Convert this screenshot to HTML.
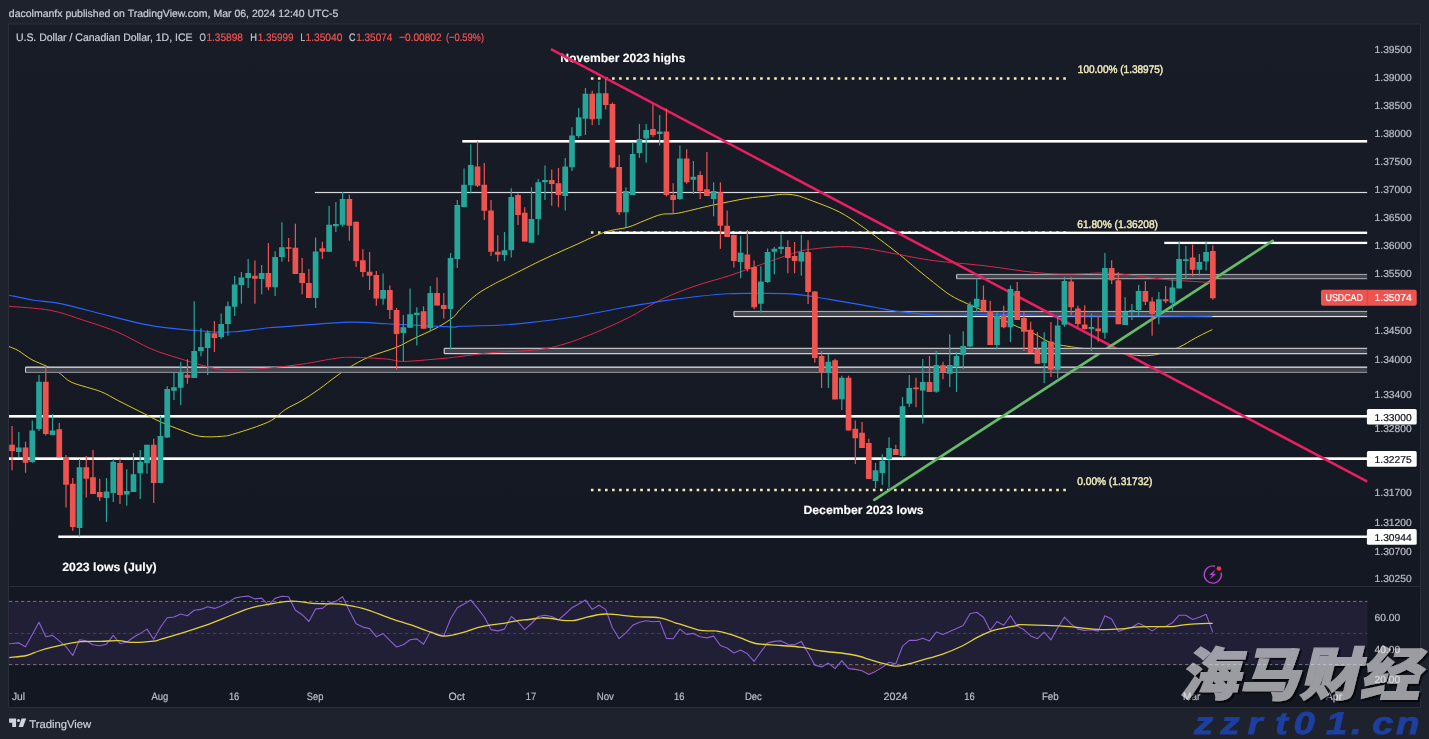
<!DOCTYPE html>
<html lang="en"><head><meta charset="utf-8"><title>USDCAD chart - TradingView</title>
<style>html,body{margin:0;padding:0;background:#1e222d;overflow:hidden}body{width:1429px;height:739px}svg{display:block}text{font-family:"Liberation Sans", "DejaVu Sans", sans-serif;white-space:pre;text-rendering:geometricPrecision}</style>
</head><body>
<svg width="1429" height="739" viewBox="0 0 1429 739" role="img" aria-label="USDCAD daily chart">
<rect width="1429" height="739" fill="#1e222d"/>
<defs><linearGradient id="bg" x1="0" y1="0" x2="0" y2="1"><stop offset="0" stop-color="#181c27"/><stop offset="1" stop-color="#131722"/></linearGradient></defs>
<rect x="8.5" y="24.0" width="1412.0" height="683.5" fill="url(#bg)" stroke="#2a2e39" stroke-width="1"/>
<line x1="9" x2="1420" y1="586.5" y2="586.5" stroke="#2a2e39" stroke-width="1"/>
<defs><clipPath id="plot"><rect x="9" y="24.5" width="1358.4" height="562"/></clipPath><clipPath id="rsi"><rect x="9" y="587" width="1358.4" height="100"/></clipPath></defs>
<g clip-path="url(#plot)">
<rect x="462.3" y="140.00" width="905.1" height="2.60" fill="#ffffff"/>
<rect x="314.8" y="191.90" width="1052.6" height="1.20" fill="#d9dade"/>
<rect x="1164.3" y="241.75" width="203.1" height="2.30" fill="#ffffff"/>
<rect x="9.0" y="415.00" width="1358.4" height="2.60" fill="#ffffff"/>
<rect x="9.0" y="457.30" width="1358.4" height="2.70" fill="#ffffff"/>
<rect x="58.3" y="535.50" width="1309.1" height="2.50" fill="#ffffff"/>
<line x1="590.9" x2="1066.5" y1="78.5" y2="78.5" stroke="#f5efb4" stroke-width="2.6" stroke-dasharray="2.6 4.45"/>
<line x1="590.9" x2="1066.5" y1="232.5" y2="232.5" stroke="#e9e2a0" stroke-width="2.6" stroke-dasharray="2.6 4.45"/>
<rect x="604.0" y="231.60" width="763.4" height="2.40" fill="#ffffff"/>
<line x1="590.9" x2="1066.5" y1="490.0" y2="490.0" stroke="#f5efb4" stroke-width="2.6" stroke-dasharray="2.6 4.45"/>
<path d="M9.1 346.6C10.6 347.3 14.5 348.4 18.3 350.6C22.1 352.8 27.1 357.1 31.9 359.7C36.7 362.3 42.5 364.2 47.0 366.4C51.5 368.6 54.7 370.0 58.9 372.7C63.1 375.4 65.2 379.4 72.2 382.5C79.2 385.6 93.2 388.6 100.8 391.6C108.4 394.6 110.3 396.6 117.6 400.3C124.9 404.0 137.1 410.2 144.4 413.8C151.7 417.4 155.0 419.5 161.2 422.2C167.4 424.9 174.9 427.8 181.4 430.2C187.9 432.6 193.2 435.3 199.9 436.3C206.6 437.3 215.8 436.8 221.7 436.3C227.6 435.9 227.3 436.0 235.1 433.6C242.9 431.2 260.3 425.8 268.7 421.8C277.1 417.8 279.9 413.0 285.5 409.4C291.1 405.8 296.7 403.7 302.3 400.3C307.9 396.9 313.5 393.2 319.1 389.2C324.7 385.2 330.9 380.1 335.9 376.5C340.9 372.9 343.7 370.7 349.3 367.4C354.9 364.1 361.6 360.0 369.5 356.7C377.4 353.4 389.1 350.3 396.4 347.3C403.7 344.3 406.5 342.1 413.2 338.9C419.9 335.6 430.0 331.4 436.7 327.8C443.4 324.2 449.6 320.1 453.5 317.0C457.4 313.9 456.1 313.3 460.0 309.5C463.9 305.7 471.2 298.6 476.8 294.4C482.4 290.2 488.0 287.4 493.6 284.3C499.2 281.2 502.0 280.1 510.4 275.9C518.8 271.7 532.8 264.4 544.0 259.1C555.2 253.8 567.5 248.5 577.6 244.0C587.7 239.5 596.0 235.0 604.4 232.2C612.8 229.4 621.3 229.1 628.0 227.2C634.7 225.2 639.2 222.6 644.8 220.5C650.4 218.4 655.9 215.6 661.5 214.4C667.1 213.2 669.9 214.6 678.3 213.1C686.7 211.6 700.7 207.7 711.9 205.3C723.1 202.9 736.0 200.2 745.5 198.6C755.0 197.0 762.8 196.6 769.0 195.9C775.2 195.2 778.0 194.4 782.5 194.3C787.0 194.2 790.9 194.2 795.9 195.3C800.9 196.4 805.4 198.2 812.7 201.0C820.0 203.8 831.2 207.7 839.6 212.1C848.0 216.5 853.6 220.5 863.1 227.2C872.6 233.9 887.8 245.4 896.7 252.4C905.7 259.4 910.6 264.0 916.8 269.0C922.9 274.0 928.0 278.1 933.6 282.5C939.2 286.9 944.8 291.7 950.4 295.2C956.0 298.7 961.6 301.0 967.2 303.6C972.8 306.2 978.4 308.5 984.0 311.0C989.6 313.5 995.2 316.1 1000.8 318.7C1006.4 321.3 1012.0 324.3 1017.6 326.8C1023.2 329.3 1028.8 331.1 1034.4 333.8C1040.0 336.5 1045.6 340.8 1051.2 342.9C1056.8 345.0 1062.4 345.4 1068.0 346.3C1073.6 347.2 1076.3 347.5 1084.7 348.6C1093.1 349.7 1108.8 351.8 1118.3 353.0C1127.8 354.2 1135.1 355.5 1141.8 355.7C1148.5 355.9 1152.4 355.4 1158.6 354.0C1164.8 352.6 1172.6 350.0 1178.8 347.3C1185.0 344.6 1190.0 340.9 1195.6 337.9C1201.2 334.9 1209.6 330.9 1212.4 329.5" fill="none" stroke="#dccb22" stroke-width="1.0" stroke-linejoin="round"/>
<rect x="956.1" y="273.90" width="411.3" height="5.30" rx="1" fill="#43454e"/><rect x="956.6" y="273.90" width="410.8" height="1.15" fill="#9d9ea5"/><rect x="956.6" y="278.05" width="410.8" height="1.15" fill="#9d9ea5"/><rect x="956.1" y="274.50" width="1.1" height="4.10" fill="#c9cace"/>
<rect x="733.5" y="310.90" width="633.9" height="6.20" rx="1" fill="#43454e"/><rect x="734.0" y="310.90" width="633.4" height="1.15" fill="#a9aab0"/><rect x="734.0" y="315.95" width="633.4" height="1.15" fill="#ececef"/><rect x="733.5" y="311.50" width="1.1" height="5.00" fill="#c9cace"/>
<rect x="25.0" y="366.60" width="1342.4" height="6.40" rx="1" fill="#43454e"/><rect x="25.5" y="366.60" width="1341.9" height="1.15" fill="#ececef"/><rect x="25.5" y="371.85" width="1341.9" height="1.15" fill="#888991"/><rect x="25.0" y="367.20" width="1.1" height="5.20" fill="#c9cace"/>
<text x="560.3" y="61.7" font-size="12.00" fill="#ffffff" stroke="#ffffff" stroke-width="0.12" font-weight="bold" textLength="125.1" lengthAdjust="spacingAndGlyphs">November 2023 highs</text>
<line x1="550.9" y1="49.2" x2="1367.4" y2="481.6" stroke="#e91e63" stroke-width="2.5"/>
<line x1="874.3" y1="499.8" x2="1272.6" y2="240.8" stroke="#66bb6a" stroke-width="2.7" stroke-linecap="round"/>
<rect x="443.7" y="347.80" width="923.7" height="6.40" rx="1" fill="#43454e"/><rect x="444.2" y="347.80" width="923.2" height="1.15" fill="#c4c5ca"/><rect x="444.2" y="353.05" width="923.2" height="1.15" fill="#d4d5d9"/><rect x="443.7" y="348.40" width="1.1" height="5.20" fill="#c9cace"/>
<path d="M9.1 306.3C16.0 307.0 37.9 308.0 50.4 310.3C62.9 312.6 72.8 316.8 84.0 320.4C95.2 324.0 106.4 327.4 117.6 332.1C128.8 336.9 141.1 344.6 151.2 348.9C161.3 353.2 169.6 355.3 178.0 358.0C186.4 360.7 194.8 363.2 201.5 365.1C208.2 367.0 212.7 368.3 218.3 369.1C223.9 369.9 226.7 370.3 235.1 370.1C243.5 369.9 257.5 369.1 268.7 368.1C279.9 367.1 291.1 365.7 302.3 364.1C313.5 362.5 327.5 359.4 335.9 358.3C344.3 357.2 344.3 357.2 352.7 357.3C361.1 357.4 377.9 358.3 386.3 359.0C394.7 359.7 394.7 361.4 403.1 361.4C411.5 361.4 427.2 359.8 436.7 359.0C446.2 358.2 450.5 357.6 460.0 356.5C469.5 355.4 480.7 353.6 493.6 352.5C506.5 351.4 525.5 351.2 537.3 349.8C549.0 348.4 554.6 346.9 564.1 344.1C573.6 341.3 583.8 337.4 594.4 333.0C605.0 328.6 616.8 323.5 628.0 317.9C639.2 312.3 650.3 304.7 661.5 299.4C672.7 294.1 683.9 289.9 695.1 286.0C706.3 282.1 717.5 279.5 728.7 275.9C739.9 272.2 751.1 268.0 762.3 264.1C773.5 260.2 787.5 254.9 795.9 252.4C804.3 249.9 805.4 249.9 812.7 249.0C820.0 248.1 831.2 246.9 839.6 246.7C848.0 246.5 853.6 246.8 863.1 248.0C872.6 249.2 885.0 252.0 896.7 254.1C908.5 256.2 919.1 258.7 933.6 260.6C948.1 262.5 967.2 263.7 984.0 265.7C1000.8 267.7 1020.4 271.0 1034.4 272.4C1048.4 273.8 1055.7 274.0 1068.0 274.1C1080.3 274.2 1097.1 272.7 1108.3 273.0C1119.5 273.3 1124.9 274.6 1135.0 275.7C1145.1 276.8 1155.8 278.7 1168.7 279.8C1181.6 280.9 1205.1 282.1 1212.4 282.5" fill="none" stroke="#d9274a" stroke-width="1.0" stroke-linejoin="round"/>
<path d="M9.1 295.2C13.2 296.0 25.0 298.8 33.6 300.2C42.2 301.6 49.3 301.4 60.5 303.6C71.7 305.9 88.5 310.6 100.8 313.7C113.1 316.8 124.3 319.9 134.4 322.1C144.5 324.3 151.1 325.7 161.2 327.1C171.3 328.5 185.3 329.7 194.8 330.5C204.3 331.3 211.6 331.9 218.3 332.1C225.0 332.3 226.7 332.5 235.1 331.8C243.5 331.1 257.5 328.9 268.7 327.8C279.9 326.7 288.9 326.3 302.3 325.4C315.7 324.4 335.3 322.4 349.3 322.1C363.3 321.8 374.5 323.1 386.3 323.7C398.1 324.2 408.7 324.8 419.9 325.4C431.1 326.0 446.8 327.0 453.5 327.1C460.2 327.2 452.8 326.6 460.0 326.3C467.2 326.0 485.8 325.9 497.0 325.3C508.2 324.7 513.8 324.4 527.2 322.9C540.6 321.4 560.8 318.9 577.6 316.2C594.4 313.5 614.0 309.3 628.0 306.8C642.0 304.3 650.3 302.8 661.5 301.1C672.7 299.4 683.9 297.9 695.1 296.7C706.3 295.5 717.5 294.2 728.7 293.7C739.9 293.1 751.1 293.3 762.3 293.4C773.5 293.5 784.7 293.4 795.9 294.4C807.1 295.4 818.3 297.6 829.5 299.4C840.7 301.2 851.9 303.1 863.1 305.1C874.3 307.1 883.9 309.5 896.7 311.2C909.5 312.9 922.6 314.7 940.0 315.2C957.4 315.7 979.5 314.3 1000.8 314.4C1022.1 314.5 1045.6 315.7 1068.0 316.0C1090.4 316.3 1110.9 315.9 1135.0 316.0C1159.1 316.1 1199.5 316.6 1212.4 316.7" fill="none" stroke="#2962ff" stroke-width="1.15" stroke-linejoin="round"/>
<path d="M18.80 432.0V457.0M32.29 420.5V463.1M39.03 375.1V431.0M52.53 414.0V435.1M79.51 459.0V536.6M106.49 477.9V522.0M113.24 459.0V502.1M126.73 469.2V505.7M133.48 452.9V491.9M140.22 449.9V499.0M146.97 444.8V473.7M160.46 415.8V483.0M167.21 386.3V437.7M173.95 373.1V399.9M180.70 361.9V405.0M194.19 301.2V377.9M200.94 328.2V356.2M207.68 330.2V374.9M221.18 313.4V338.7M227.92 301.4V335.7M234.67 276.0V316.0M241.41 271.9V303.8M248.16 259.1V288.0M261.65 265.0V294.3M275.14 251.2V295.9M281.89 222.2V261.8M315.62 237.4V308.1M329.11 206.1V251.8M335.86 202.1V231.9M342.60 191.9V226.4M383.08 273.4V304.8M403.32 315.0V361.1M410.06 288.6V327.8M416.81 307.3V345.4M430.30 285.9V330.6M450.54 253.0V349.5M457.29 200.1V268.1M464.03 168.6V207.2M470.78 144.2V193.4M504.51 231.9V261.0M511.25 188.3V257.5M531.49 187.3V242.7M538.24 179.1V235.0M544.98 165.5V200.1M565.22 158.0V210.6M571.97 127.3V171.0M578.71 108.0V137.9M585.46 88.1V135.0M598.95 81.6V124.9M625.94 187.3V227.5M632.68 142.6V195.0M639.43 123.9V157.8M646.17 123.9V162.8M659.67 115.1V145.6M679.90 145.6V200.1M693.40 161.1V194.0M713.63 182.2V216.3M740.62 236.0V278.2M760.86 266.3V312.4M767.60 248.4V282.9M774.35 247.0V274.2M781.09 234.2V253.9M801.33 234.8V275.8M828.32 354.1V388.0M841.81 375.8V409.9M875.54 463.1V488.1M882.28 454.2V485.0M889.03 437.3V487.5M902.52 397.1V457.0M909.27 375.0V406.9M922.76 359.1V423.5M936.25 350.9V392.7M949.74 334.3V387.1M956.49 352.1V392.1M963.24 331.2V369.2M969.98 301.8V347.1M976.73 278.4V311.9M996.97 312.3V349.5M1010.46 285.5V342.0M1044.19 332.2V383.0M1057.68 316.4V377.9M1064.43 277.0V326.8M1091.41 313.4V351.0M1104.90 253.1V338.8M1125.14 297.2V325.0M1131.89 303.9V320.1M1138.63 285.0V316.4M1158.87 292.1V324.2M1172.36 279.3V310.8M1179.11 241.7V288.6M1185.85 246.0V278.9M1199.35 254.1V275.8M1206.09 241.7V270.4" stroke="#26a69a" stroke-width="1.2" fill="none"/>
<path d="M12.05 426.1V470.2M25.54 441.8V472.8M45.78 367.0V435.6M59.27 423.1V457.0M66.02 455.0V507.4M72.76 477.9V530.7M86.26 456.0V497.6M93.00 449.9V494.0M99.75 478.7V501.1M119.99 458.4V504.1M153.72 438.7V503.1M187.45 359.3V383.7M214.43 321.1V351.9M254.91 260.6V303.8M268.40 243.1V290.2M288.64 238.0V261.8M295.38 223.8V274.0M302.13 257.9V294.3M308.87 268.9V297.9M322.37 241.7V258.9M349.35 194.8V240.7M356.10 221.8V267.1M362.84 249.2V277.0M369.59 252.0V290.0M376.33 270.9V305.8M389.83 285.5V319.0M396.57 307.9V369.8M423.56 306.2V328.8M437.05 277.4V305.8M443.79 293.0V318.6M477.52 141.2V186.9M484.27 163.1V219.9M491.02 200.1V255.9M497.76 235.2V261.6M518.00 193.4V225.0M524.75 207.2V241.7M551.73 169.6V205.7M558.48 168.0V207.2M592.21 90.8V124.9M605.70 79.6V109.6M612.44 102.5V168.3M619.19 155.0V214.9M652.92 104.6V137.1M666.41 108.6V196.5M673.16 183.2V213.7M686.65 149.3V183.8M700.14 171.2V199.0M706.89 151.9V196.0M720.38 182.2V248.8M727.13 210.6V237.0M733.87 234.6V267.5M747.36 230.1V271.5M754.11 260.6V309.3M787.84 240.3V273.2M794.59 241.9V273.2M808.08 240.3V303.9M814.82 291.1V362.7M821.57 351.0V388.0M835.06 358.7V399.3M848.55 375.8V430.6M855.30 420.5V464.1M862.05 422.1V448.1M868.79 438.7V478.9M895.78 444.8V455.0M916.01 377.8V407.3M929.51 356.1V392.0M943.00 361.7V379.3M983.47 285.5V311.9M990.22 300.8V345.0M1003.71 305.8V328.2M1017.20 281.9V320.1M1023.95 311.5V350.9M1030.70 321.7V352.9M1037.44 332.2V363.7M1050.93 322.1V376.9M1071.17 277.0V315.0M1077.92 305.8V326.8M1084.66 305.3V329.6M1098.16 316.0V341.8M1111.65 260.2V284.0M1118.39 272.2V324.2M1145.38 280.9V304.9M1152.12 297.2V335.7M1165.62 286.0V303.2M1192.60 244.4V276.2M1212.84 245.4V299.8" stroke="#ef5350" stroke-width="1.2" fill="none"/>
<path d="M15.95 447.5h5.7v4.5h-5.7zM29.44 430.6h5.7v31.5h-5.7zM36.18 381.8h5.7v47.1h-5.7zM49.68 430.6h5.7v4.5h-5.7zM76.66 467.2h5.7v60.9h-5.7zM103.64 491.5h5.7v6.5h-5.7zM110.39 461.7h5.7v31.3h-5.7zM123.88 490.9h5.7v3.7h-5.7zM130.63 474.3h5.7v17.7h-5.7zM137.37 461.7h5.7v11.6h-5.7zM144.12 444.8h5.7v18.3h-5.7zM157.61 436.1h5.7v46.9h-5.7zM164.36 388.9h5.7v48.7h-5.7zM171.10 387.3h5.7v3.5h-5.7zM177.85 372.5h5.7v15.2h-5.7zM191.34 350.9h5.7v27.0h-5.7zM198.09 347.1h5.7v3.9h-5.7zM204.83 332.6h5.7v15.4h-5.7zM218.33 324.1h5.7v12.8h-5.7zM225.07 306.2h5.7v17.9h-5.7zM231.82 284.5h5.7v22.3h-5.7zM238.56 277.4h5.7v7.5h-5.7zM245.31 272.9h5.7v5.1h-5.7zM258.80 272.9h5.7v6.1h-5.7zM272.29 256.9h5.7v30.3h-5.7zM279.04 247.2h5.7v9.7h-5.7zM312.77 251.6h5.7v46.3h-5.7zM326.26 224.8h5.7v27.0h-5.7zM333.01 224.0h5.7v2.2h-5.7zM339.75 199.0h5.7v25.8h-5.7zM380.23 290.0h5.7v8.7h-5.7zM400.47 327.2h5.7v5.7h-5.7zM407.21 314.2h5.7v13.6h-5.7zM413.96 312.7h5.7v2.2h-5.7zM427.45 293.0h5.7v35.1h-5.7zM447.69 258.1h5.7v50.8h-5.7zM454.44 205.1h5.7v53.8h-5.7zM461.18 184.8h5.7v22.3h-5.7zM467.93 164.9h5.7v20.3h-5.7zM501.66 250.2h5.7v4.7h-5.7zM508.40 197.0h5.7v53.2h-5.7zM528.64 218.9h5.7v23.8h-5.7zM535.39 182.2h5.7v36.8h-5.7zM542.13 179.9h5.7v2.4h-5.7zM562.37 166.5h5.7v29.4h-5.7zM569.12 135.4h5.7v31.9h-5.7zM575.86 117.2h5.7v18.7h-5.7zM582.61 93.8h5.7v25.0h-5.7zM596.10 93.2h5.7v25.6h-5.7zM623.09 190.9h5.7v21.3h-5.7zM629.83 154.0h5.7v41.0h-5.7zM636.58 139.1h5.7v14.0h-5.7zM643.32 129.9h5.7v8.5h-5.7zM656.82 131.4h5.7v2.6h-5.7zM677.05 158.4h5.7v40.6h-5.7zM690.55 176.7h5.7v3.0h-5.7zM710.78 190.9h5.7v8.1h-5.7zM737.77 252.8h5.7v9.1h-5.7zM758.01 281.5h5.7v22.3h-5.7zM764.75 251.9h5.7v30.1h-5.7zM771.50 248.8h5.7v3.0h-5.7zM778.24 246.8h5.7v2.2h-5.7zM798.48 251.9h5.7v9.7h-5.7zM825.47 361.8h5.7v10.6h-5.7zM838.96 377.8h5.7v21.5h-5.7zM872.69 470.2h5.7v10.8h-5.7zM879.43 460.7h5.7v12.2h-5.7zM886.18 448.1h5.7v11.0h-5.7zM899.67 406.2h5.7v49.7h-5.7zM906.42 388.0h5.7v15.8h-5.7zM919.91 381.9h5.7v8.7h-5.7zM933.40 365.1h5.7v26.6h-5.7zM946.89 365.1h5.7v8.7h-5.7zM953.64 356.0h5.7v10.2h-5.7zM960.39 346.0h5.7v8.9h-5.7zM967.13 304.8h5.7v41.6h-5.7zM973.88 298.7h5.7v8.5h-5.7zM994.12 316.0h5.7v29.0h-5.7zM1007.61 289.0h5.7v38.2h-5.7zM1041.34 341.4h5.7v21.7h-5.7zM1054.83 325.5h5.7v44.3h-5.7zM1061.58 280.9h5.7v43.9h-5.7zM1088.56 327.0h5.7v2.0h-5.7zM1102.05 268.1h5.7v64.6h-5.7zM1122.29 312.0h5.7v13.0h-5.7zM1129.04 309.9h5.7v1.4h-5.7zM1135.78 291.1h5.7v18.9h-5.7zM1156.02 299.2h5.7v15.2h-5.7zM1169.51 287.4h5.7v15.4h-5.7zM1176.26 259.0h5.7v29.6h-5.7zM1183.00 259.2h5.7v1.8h-5.7zM1196.50 262.0h5.7v7.7h-5.7zM1203.24 251.9h5.7v9.7h-5.7z" fill="#26a69a"/>
<path d="M9.20 444.8h5.7v6.1h-5.7zM22.69 447.5h5.7v15.2h-5.7zM42.93 381.8h5.7v52.2h-5.7zM56.42 429.2h5.7v27.8h-5.7zM63.17 457.0h5.7v27.8h-5.7zM69.91 483.8h5.7v43.2h-5.7zM83.41 467.2h5.7v11.6h-5.7zM90.15 477.3h5.7v16.6h-5.7zM96.90 491.9h5.7v5.3h-5.7zM117.14 463.1h5.7v31.9h-5.7zM150.87 444.8h5.7v38.2h-5.7zM184.60 374.7h5.7v3.0h-5.7zM211.58 333.2h5.7v4.7h-5.7zM252.06 275.8h5.7v3.0h-5.7zM265.55 272.9h5.7v14.4h-5.7zM285.79 247.2h5.7v1.6h-5.7zM292.53 247.8h5.7v26.2h-5.7zM299.28 272.9h5.7v10.2h-5.7zM306.02 283.1h5.7v14.8h-5.7zM319.52 248.2h5.7v3.5h-5.7zM346.50 199.0h5.7v26.8h-5.7zM353.25 221.8h5.7v39.2h-5.7zM359.99 260.2h5.7v11.8h-5.7zM366.74 271.7h5.7v4.1h-5.7zM373.48 275.0h5.7v23.4h-5.7zM386.98 290.0h5.7v19.9h-5.7zM393.72 309.9h5.7v24.0h-5.7zM420.71 311.3h5.7v17.5h-5.7zM434.20 293.0h5.7v12.6h-5.7zM440.94 305.0h5.7v3.9h-5.7zM474.67 166.5h5.7v19.3h-5.7zM481.42 184.8h5.7v26.0h-5.7zM488.17 210.6h5.7v41.2h-5.7zM494.91 251.8h5.7v3.0h-5.7zM515.15 195.0h5.7v19.9h-5.7zM521.90 212.8h5.7v28.8h-5.7zM548.88 179.9h5.7v4.1h-5.7zM555.63 183.2h5.7v11.8h-5.7zM589.36 93.8h5.7v25.4h-5.7zM602.85 93.2h5.7v11.8h-5.7zM609.59 104.0h5.7v63.4h-5.7zM616.34 167.0h5.7v45.3h-5.7zM650.07 128.9h5.7v6.1h-5.7zM663.56 131.4h5.7v63.6h-5.7zM670.31 195.0h5.7v5.1h-5.7zM683.80 158.4h5.7v23.8h-5.7zM697.29 175.1h5.7v15.8h-5.7zM704.04 189.3h5.7v6.7h-5.7zM717.53 192.3h5.7v33.5h-5.7zM724.28 225.8h5.7v11.2h-5.7zM731.02 235.0h5.7v26.0h-5.7zM744.51 254.5h5.7v14.6h-5.7zM751.26 267.1h5.7v40.2h-5.7zM784.99 247.0h5.7v11.0h-5.7zM791.74 255.9h5.7v5.1h-5.7zM805.23 251.9h5.7v40.2h-5.7zM811.97 291.5h5.7v66.6h-5.7zM818.72 356.1h5.7v16.6h-5.7zM832.21 360.2h5.7v39.2h-5.7zM845.70 377.8h5.7v52.8h-5.7zM852.45 428.8h5.7v9.5h-5.7zM859.20 432.8h5.7v15.2h-5.7zM865.94 443.0h5.7v35.9h-5.7zM892.93 448.9h5.7v6.1h-5.7zM913.16 387.6h5.7v1.6h-5.7zM926.66 381.9h5.7v10.2h-5.7zM940.15 365.3h5.7v6.9h-5.7zM980.62 299.7h5.7v11.2h-5.7zM987.37 310.9h5.7v34.1h-5.7zM1000.86 315.4h5.7v11.8h-5.7zM1014.35 291.0h5.7v29.0h-5.7zM1021.10 318.0h5.7v13.8h-5.7zM1027.85 329.8h5.7v23.1h-5.7zM1034.59 348.9h5.7v14.8h-5.7zM1048.08 341.4h5.7v28.4h-5.7zM1068.32 281.5h5.7v25.8h-5.7zM1075.07 308.5h5.7v15.6h-5.7zM1081.81 324.6h5.7v4.5h-5.7zM1095.31 328.6h5.7v2.6h-5.7zM1108.80 268.1h5.7v12.2h-5.7zM1115.54 280.3h5.7v43.9h-5.7zM1142.53 291.1h5.7v10.6h-5.7zM1149.27 301.6h5.7v12.4h-5.7zM1162.77 299.2h5.7v2.0h-5.7zM1189.75 257.6h5.7v12.2h-5.7zM1209.99 251.1h5.7v47.1h-5.7z" fill="#ef5350"/>
</g>
<text x="803.5" y="514.1" font-size="12.00" fill="#ffffff" stroke="#ffffff" stroke-width="0.12" font-weight="bold" textLength="120.1" lengthAdjust="spacingAndGlyphs">December 2023 lows</text>
<text x="62.2" y="571.1" font-size="12.00" fill="#ffffff" stroke="#ffffff" stroke-width="0.12" font-weight="bold" textLength="94.5" lengthAdjust="spacingAndGlyphs">2023 lows (July)</text>
<text x="1077.8" y="73.4" font-size="11.00" fill="#f1ebbd" stroke="#f1ebbd" stroke-width="0.45" font-weight="normal" textLength="85.4" lengthAdjust="spacingAndGlyphs">100.00% (1.38975)</text>
<text x="1077.3" y="227.6" font-size="11.00" fill="#f1ebbd" stroke="#f1ebbd" stroke-width="0.45" font-weight="normal" textLength="80.7" lengthAdjust="spacingAndGlyphs">61.80% (1.36208)</text>
<text x="1077.3" y="485.2" font-size="11.00" fill="#f1ebbd" stroke="#f1ebbd" stroke-width="0.45" font-weight="normal" textLength="75.0" lengthAdjust="spacingAndGlyphs">0.00% (1.31732)</text>
<g transform="translate(1212.8 574.5)" fill="none" stroke="#b141c9" stroke-width="1.4"><path d="M2.2 -8.3A8.6 8.6 0 1 0 8.4 -1.9"/><path d="M2.7 -5.0L-3.7 0.55L-0.4 0.45L-3.1 4.9L3.6 -0.65L0.3 -0.5Z" fill="#b141c9" stroke="none"/><circle cx="6.1" cy="-6.0" r="2.3" fill="#f23645" stroke="none"/></g>
<rect x="9" y="601.4" width="1358.4" height="63.2" fill="#7e57c2" fill-opacity="0.13"/>
<line x1="9" x2="1367.4" y1="601.4" y2="601.4" stroke="#a9acb5" stroke-opacity="0.62" stroke-width="1" stroke-dasharray="3.4 2.6"/>
<line x1="9" x2="1367.4" y1="633.4" y2="633.4" stroke="#a9acb5" stroke-opacity="0.25" stroke-width="1" stroke-dasharray="3.4 2.6"/>
<line x1="9" x2="1367.4" y1="664.6" y2="664.6" stroke="#a9acb5" stroke-opacity="0.62" stroke-width="1" stroke-dasharray="3.4 2.6"/>
<g clip-path="url(#rsi)">
<clipPath id="os"><rect x="9" y="664.6" width="1358" height="30"/></clipPath>
<path d="M9.0 643.7 L12.1 643.5 L18.8 642.9 L25.5 646.7 L32.3 634.6 L39.0 622.3 L45.8 636.7 L52.5 635.4 L59.3 640.9 L66.0 646.7 L72.8 655.5 L79.5 639.7 L86.3 640.9 L93.0 644.7 L99.7 645.7 L106.5 644.2 L113.2 635.4 L120.0 643.5 L126.7 642.2 L133.5 637.2 L140.2 633.4 L147.0 629.1 L153.7 639.2 L160.5 627.3 L167.2 617.8 L174.0 617.0 L180.7 614.0 L187.4 615.7 L194.2 610.2 L200.9 609.4 L207.7 606.7 L214.4 608.4 L221.2 605.9 L227.9 602.6 L234.7 598.1 L241.4 596.8 L248.2 596.1 L254.9 598.9 L261.7 598.1 L268.4 605.2 L275.1 598.4 L281.9 596.3 L288.6 596.8 L295.4 610.2 L302.1 614.7 L308.9 621.5 L315.6 608.9 L322.4 608.4 L329.1 603.1 L335.9 601.4 L342.6 596.8 L349.4 610.7 L356.1 623.8 L362.8 627.1 L369.6 628.6 L376.3 636.7 L383.1 633.6 L389.8 640.4 L396.6 647.0 L403.3 644.7 L410.1 639.7 L416.8 638.9 L423.6 644.2 L430.3 631.6 L437.0 634.1 L443.8 635.9 L450.5 619.0 L457.3 607.7 L464.0 603.9 L470.8 600.1 L477.5 608.2 L484.3 617.0 L491.0 629.6 L497.8 630.9 L504.5 629.1 L511.3 616.5 L518.0 622.0 L524.7 629.6 L531.5 623.5 L538.2 616.5 L545.0 615.2 L551.7 616.5 L558.5 619.8 L565.2 614.0 L572.0 607.7 L578.7 603.9 L585.5 600.1 L592.2 609.4 L599.0 605.2 L605.7 609.4 L612.4 627.8 L619.2 638.7 L625.9 632.9 L632.7 625.3 L639.4 622.3 L646.2 620.8 L652.9 621.8 L659.7 621.3 L666.4 638.4 L673.2 638.7 L679.9 629.1 L686.6 634.4 L693.4 633.4 L700.1 636.7 L706.9 637.9 L713.6 636.1 L720.4 645.5 L727.1 648.0 L733.9 653.0 L740.6 650.0 L747.4 653.8 L754.1 661.3 L760.9 651.8 L767.6 642.9 L774.3 641.4 L781.1 640.9 L787.8 644.2 L794.6 644.7 L801.3 641.4 L808.1 653.0 L814.8 665.1 L821.6 666.9 L828.3 663.1 L835.1 668.6 L841.8 660.6 L848.6 668.6 L855.3 669.4 L862.0 670.7 L868.8 674.4 L875.5 671.4 L882.3 667.4 L889.0 662.3 L895.8 663.9 L902.5 646.2 L909.3 640.4 L916.0 640.4 L922.8 638.2 L929.5 640.9 L936.3 632.1 L943.0 634.6 L949.7 631.6 L956.5 628.6 L963.2 625.6 L970.0 613.7 L976.7 612.2 L983.5 617.2 L990.2 630.4 L997.0 621.5 L1003.7 625.3 L1010.5 615.7 L1017.2 626.1 L1024.0 629.8 L1030.7 635.9 L1037.4 638.7 L1044.2 632.1 L1050.9 639.9 L1057.7 627.8 L1064.4 617.2 L1071.2 624.1 L1077.9 629.1 L1084.7 630.4 L1091.4 629.8 L1098.2 631.1 L1104.9 615.7 L1111.6 619.0 L1118.4 631.6 L1125.1 629.1 L1131.9 627.3 L1138.6 623.3 L1145.4 626.6 L1152.1 630.9 L1158.9 626.6 L1165.6 626.6 L1172.4 622.8 L1179.1 615.2 L1185.9 615.2 L1192.6 619.5 L1199.3 617.2 L1206.1 614.2 L1212.8 632.4 L1212.8 664.6 L9.0 664.6 Z" fill="#ef5350" fill-opacity="0.13" clip-path="url(#os)"/>
<path d="M9.0 643.7 L12.1 643.5 L18.8 642.9 L25.5 646.7 L32.3 634.6 L39.0 622.3 L45.8 636.7 L52.5 635.4 L59.3 640.9 L66.0 646.7 L72.8 655.5 L79.5 639.7 L86.3 640.9 L93.0 644.7 L99.7 645.7 L106.5 644.2 L113.2 635.4 L120.0 643.5 L126.7 642.2 L133.5 637.2 L140.2 633.4 L147.0 629.1 L153.7 639.2 L160.5 627.3 L167.2 617.8 L174.0 617.0 L180.7 614.0 L187.4 615.7 L194.2 610.2 L200.9 609.4 L207.7 606.7 L214.4 608.4 L221.2 605.9 L227.9 602.6 L234.7 598.1 L241.4 596.8 L248.2 596.1 L254.9 598.9 L261.7 598.1 L268.4 605.2 L275.1 598.4 L281.9 596.3 L288.6 596.8 L295.4 610.2 L302.1 614.7 L308.9 621.5 L315.6 608.9 L322.4 608.4 L329.1 603.1 L335.9 601.4 L342.6 596.8 L349.4 610.7 L356.1 623.8 L362.8 627.1 L369.6 628.6 L376.3 636.7 L383.1 633.6 L389.8 640.4 L396.6 647.0 L403.3 644.7 L410.1 639.7 L416.8 638.9 L423.6 644.2 L430.3 631.6 L437.0 634.1 L443.8 635.9 L450.5 619.0 L457.3 607.7 L464.0 603.9 L470.8 600.1 L477.5 608.2 L484.3 617.0 L491.0 629.6 L497.8 630.9 L504.5 629.1 L511.3 616.5 L518.0 622.0 L524.7 629.6 L531.5 623.5 L538.2 616.5 L545.0 615.2 L551.7 616.5 L558.5 619.8 L565.2 614.0 L572.0 607.7 L578.7 603.9 L585.5 600.1 L592.2 609.4 L599.0 605.2 L605.7 609.4 L612.4 627.8 L619.2 638.7 L625.9 632.9 L632.7 625.3 L639.4 622.3 L646.2 620.8 L652.9 621.8 L659.7 621.3 L666.4 638.4 L673.2 638.7 L679.9 629.1 L686.6 634.4 L693.4 633.4 L700.1 636.7 L706.9 637.9 L713.6 636.1 L720.4 645.5 L727.1 648.0 L733.9 653.0 L740.6 650.0 L747.4 653.8 L754.1 661.3 L760.9 651.8 L767.6 642.9 L774.3 641.4 L781.1 640.9 L787.8 644.2 L794.6 644.7 L801.3 641.4 L808.1 653.0 L814.8 665.1 L821.6 666.9 L828.3 663.1 L835.1 668.6 L841.8 660.6 L848.6 668.6 L855.3 669.4 L862.0 670.7 L868.8 674.4 L875.5 671.4 L882.3 667.4 L889.0 662.3 L895.8 663.9 L902.5 646.2 L909.3 640.4 L916.0 640.4 L922.8 638.2 L929.5 640.9 L936.3 632.1 L943.0 634.6 L949.7 631.6 L956.5 628.6 L963.2 625.6 L970.0 613.7 L976.7 612.2 L983.5 617.2 L990.2 630.4 L997.0 621.5 L1003.7 625.3 L1010.5 615.7 L1017.2 626.1 L1024.0 629.8 L1030.7 635.9 L1037.4 638.7 L1044.2 632.1 L1050.9 639.9 L1057.7 627.8 L1064.4 617.2 L1071.2 624.1 L1077.9 629.1 L1084.7 630.4 L1091.4 629.8 L1098.2 631.1 L1104.9 615.7 L1111.6 619.0 L1118.4 631.6 L1125.1 629.1 L1131.9 627.3 L1138.6 623.3 L1145.4 626.6 L1152.1 630.9 L1158.9 626.6 L1165.6 626.6 L1172.4 622.8 L1179.1 615.2 L1185.9 615.2 L1192.6 619.5 L1199.3 617.2 L1206.1 614.2 L1212.8 632.4" fill="none" stroke="#8a5fd0" stroke-width="1.1" stroke-linejoin="round"/>
<path d="M9.3 657.6C12.2 657.2 21.3 656.7 26.5 655.5C31.6 654.4 33.8 652.4 40.3 650.5C46.8 648.6 58.8 645.7 65.5 644.2C72.2 642.7 74.7 642.2 80.6 641.7C86.5 641.2 94.5 641.6 100.8 641.4C107.1 641.3 113.0 640.5 118.4 640.7C123.9 640.8 127.7 642.4 133.5 642.4C139.4 642.5 149.1 641.7 153.7 641.2C158.3 640.6 155.8 640.8 161.2 639.2C166.7 637.6 178.5 634.1 186.4 631.6C194.4 629.1 201.1 627.0 209.1 624.1C217.1 621.1 227.2 616.7 234.3 614.0C241.5 611.2 246.5 609.2 252.0 607.7C257.4 606.1 261.6 605.7 267.1 604.7C272.5 603.6 279.7 602.2 284.7 601.6C289.7 601.1 293.1 601.1 297.3 601.4C301.5 601.6 304.9 602.7 309.9 603.1C314.9 603.6 322.5 603.7 327.5 603.9C332.6 604.1 334.1 603.4 340.0 604.1C345.9 604.9 354.3 606.1 362.7 608.4C371.1 610.8 381.6 615.2 390.4 618.3C399.2 621.3 408.0 623.9 415.6 626.6C423.1 629.2 431.1 632.5 435.7 634.1C440.4 635.7 440.4 636.0 443.3 636.1C446.2 636.3 449.6 635.6 453.4 634.9C457.2 634.1 461.8 632.9 466.0 631.6C470.2 630.4 474.4 628.5 478.6 627.3C482.8 626.2 487.0 625.5 491.2 624.8C495.4 624.1 499.6 624.0 503.8 623.3C508.0 622.6 512.2 621.4 516.4 620.8C520.6 620.1 524.8 620.0 529.0 619.5C533.2 619.0 537.8 617.9 541.6 617.8C545.3 617.6 548.3 618.1 551.6 618.5C555.0 618.9 557.9 619.9 561.7 620.3C565.5 620.6 570.1 621.0 574.3 620.5C578.5 620.0 582.7 618.3 586.9 617.2C591.1 616.2 596.2 615.0 599.5 614.5C602.9 613.9 604.1 613.9 607.1 614.0C610.0 614.0 612.5 614.3 617.1 614.7C621.8 615.2 627.6 616.2 634.8 616.7C641.9 617.2 653.3 616.7 660.0 617.8C666.7 618.8 671.8 621.7 675.1 622.8C678.4 623.8 675.8 622.8 680.0 624.1C684.2 625.3 694.3 629.2 700.2 630.4C706.0 631.5 711.1 630.4 715.3 630.9C719.5 631.3 721.2 631.7 725.4 632.9C729.6 634.0 735.4 636.1 740.5 637.9C745.5 639.7 748.9 642.2 755.6 643.5C762.3 644.7 773.2 644.8 780.8 645.5C788.3 646.1 794.2 646.3 800.9 647.2C807.7 648.2 814.4 650.0 821.1 651.0C827.8 652.0 835.4 652.3 841.2 653.0C847.1 653.8 851.3 654.4 856.4 655.5C861.4 656.7 866.4 658.6 871.5 660.1C876.5 661.6 882.6 663.4 886.6 664.4C890.6 665.4 892.5 666.0 895.4 666.1C898.4 666.3 899.8 666.1 904.2 665.1C908.6 664.1 915.6 661.9 921.9 660.1C928.2 658.3 935.3 656.6 942.0 654.3C948.7 651.9 956.3 648.8 962.2 646.0C968.1 643.2 972.7 639.8 977.3 637.4C981.9 635.0 985.3 633.2 989.9 631.6C994.5 630.0 1000.4 628.9 1005.0 627.8C1009.6 626.8 1015.1 625.9 1017.6 625.3C1020.1 624.8 1015.4 624.6 1020.0 624.6C1024.6 624.6 1036.8 625.0 1045.2 625.3C1053.6 625.6 1063.7 626.1 1070.4 626.6C1077.1 627.1 1080.0 627.8 1085.5 628.3C1091.0 628.8 1097.3 629.5 1103.1 629.6C1109.0 629.7 1114.9 629.3 1120.8 628.8C1126.7 628.4 1132.5 627.2 1138.4 626.8C1144.3 626.4 1150.6 626.6 1156.1 626.6C1161.5 626.5 1166.6 626.9 1171.2 626.6C1175.8 626.3 1179.6 625.3 1183.8 624.8C1188.0 624.3 1191.5 624.1 1196.4 623.8C1201.2 623.5 1210.0 623.4 1212.7 623.3" fill="none" stroke="#e0d13a" stroke-width="1.3" stroke-linejoin="round"/>
</g>
<text x="1374.6" y="53.4" font-size="10.20" fill="#b9bcc5" stroke="#b9bcc5" stroke-width="0.22" font-weight="normal" textLength="37.1" lengthAdjust="spacingAndGlyphs">1.39500</text>
<text x="1374.6" y="81.0" font-size="10.20" fill="#b9bcc5" stroke="#b9bcc5" stroke-width="0.22" font-weight="normal" textLength="37.1" lengthAdjust="spacingAndGlyphs">1.39000</text>
<text x="1374.6" y="108.8" font-size="10.20" fill="#b9bcc5" stroke="#b9bcc5" stroke-width="0.22" font-weight="normal" textLength="37.1" lengthAdjust="spacingAndGlyphs">1.38500</text>
<text x="1374.6" y="136.6" font-size="10.20" fill="#b9bcc5" stroke="#b9bcc5" stroke-width="0.22" font-weight="normal" textLength="37.1" lengthAdjust="spacingAndGlyphs">1.38000</text>
<text x="1374.6" y="164.6" font-size="10.20" fill="#b9bcc5" stroke="#b9bcc5" stroke-width="0.22" font-weight="normal" textLength="37.1" lengthAdjust="spacingAndGlyphs">1.37500</text>
<text x="1374.6" y="192.6" font-size="10.20" fill="#b9bcc5" stroke="#b9bcc5" stroke-width="0.22" font-weight="normal" textLength="37.1" lengthAdjust="spacingAndGlyphs">1.37000</text>
<text x="1374.6" y="220.8" font-size="10.20" fill="#b9bcc5" stroke="#b9bcc5" stroke-width="0.22" font-weight="normal" textLength="37.1" lengthAdjust="spacingAndGlyphs">1.36500</text>
<text x="1374.6" y="249.0" font-size="10.20" fill="#b9bcc5" stroke="#b9bcc5" stroke-width="0.22" font-weight="normal" textLength="37.1" lengthAdjust="spacingAndGlyphs">1.36000</text>
<text x="1374.6" y="277.4" font-size="10.20" fill="#b9bcc5" stroke="#b9bcc5" stroke-width="0.22" font-weight="normal" textLength="37.1" lengthAdjust="spacingAndGlyphs">1.35500</text>
<text x="1374.6" y="334.4" font-size="10.20" fill="#b9bcc5" stroke="#b9bcc5" stroke-width="0.22" font-weight="normal" textLength="37.1" lengthAdjust="spacingAndGlyphs">1.34500</text>
<text x="1374.6" y="363.1" font-size="10.20" fill="#b9bcc5" stroke="#b9bcc5" stroke-width="0.22" font-weight="normal" textLength="37.1" lengthAdjust="spacingAndGlyphs">1.34000</text>
<text x="1374.6" y="397.6" font-size="10.20" fill="#b9bcc5" stroke="#b9bcc5" stroke-width="0.22" font-weight="normal" textLength="37.1" lengthAdjust="spacingAndGlyphs">1.33400</text>
<text x="1374.6" y="432.3" font-size="10.20" fill="#b9bcc5" stroke="#b9bcc5" stroke-width="0.22" font-weight="normal" textLength="37.1" lengthAdjust="spacingAndGlyphs">1.32800</text>
<text x="1374.6" y="496.3" font-size="10.20" fill="#b9bcc5" stroke="#b9bcc5" stroke-width="0.22" font-weight="normal" textLength="37.1" lengthAdjust="spacingAndGlyphs">1.31700</text>
<text x="1374.6" y="525.6" font-size="10.20" fill="#b9bcc5" stroke="#b9bcc5" stroke-width="0.22" font-weight="normal" textLength="37.1" lengthAdjust="spacingAndGlyphs">1.31200</text>
<text x="1374.6" y="555.0" font-size="10.20" fill="#b9bcc5" stroke="#b9bcc5" stroke-width="0.22" font-weight="normal" textLength="37.1" lengthAdjust="spacingAndGlyphs">1.30700</text>
<text x="1374.6" y="581.6" font-size="10.20" fill="#b9bcc5" stroke="#b9bcc5" stroke-width="0.22" font-weight="normal" textLength="37.1" lengthAdjust="spacingAndGlyphs">1.30250</text>
<text x="1374.6" y="621.3" font-size="10.20" fill="#b9bcc5" stroke="#b9bcc5" stroke-width="0.22" font-weight="normal" textLength="25.7" lengthAdjust="spacingAndGlyphs">60.00</text>
<text x="1374.6" y="652.6" font-size="10.20" fill="#b9bcc5" stroke="#b9bcc5" stroke-width="0.22" font-weight="normal" textLength="25.7" lengthAdjust="spacingAndGlyphs">40.00</text>
<text x="1374.6" y="683.1" font-size="10.20" fill="#b9bcc5" stroke="#b9bcc5" stroke-width="0.22" font-weight="normal" textLength="25.7" lengthAdjust="spacingAndGlyphs">20.00</text>
<rect x="1366.9" y="408.9" width="49.8" height="15.7" rx="1.6" fill="#ffffff"/><text x="1374.6" y="420.7" font-size="10.00" fill="#131722" stroke="#131722" stroke-width="0.22" font-weight="normal" textLength="37.1" lengthAdjust="spacingAndGlyphs">1.33000</text>
<rect x="1366.9" y="451.1" width="49.8" height="15.7" rx="1.6" fill="#ffffff"/><text x="1374.6" y="462.9" font-size="10.00" fill="#131722" stroke="#131722" stroke-width="0.22" font-weight="normal" textLength="37.1" lengthAdjust="spacingAndGlyphs">1.32275</text>
<rect x="1366.9" y="529.1" width="49.8" height="15.7" rx="1.6" fill="#ffffff"/><text x="1374.6" y="540.9" font-size="10.00" fill="#131722" stroke="#131722" stroke-width="0.22" font-weight="normal" textLength="37.1" lengthAdjust="spacingAndGlyphs">1.30944</text>
<rect x="1321" y="289.8" width="95.7" height="15.9" rx="2" fill="#ef5350"/>
<rect x="1366.9" y="289.8" width="0.8" height="15.9" fill="#cf4844"/>
<text x="1325.5" y="301.4" font-size="10.00" fill="#ffffff" stroke="#ffffff" stroke-width="0.22" font-weight="normal" textLength="37.4" lengthAdjust="spacingAndGlyphs">USDCAD</text>
<text x="1374.6" y="301.4" font-size="10.00" fill="#ffffff" stroke="#ffffff" stroke-width="0.22" font-weight="normal" textLength="37.1" lengthAdjust="spacingAndGlyphs">1.35074</text>
<text x="11.9" y="700.0" font-size="10.60" fill="#b9bcc5" stroke="#b9bcc5" stroke-width="0.22" font-weight="normal" textLength="13.1" lengthAdjust="spacingAndGlyphs">Jul</text>
<text x="151.5" y="700.0" font-size="10.60" fill="#b9bcc5" stroke="#b9bcc5" stroke-width="0.22" font-weight="normal" textLength="16.8" lengthAdjust="spacingAndGlyphs">Aug</text>
<text x="228.9" y="700.0" font-size="10.60" fill="#b9bcc5" stroke="#b9bcc5" stroke-width="0.22" font-weight="normal" textLength="10.4" lengthAdjust="spacingAndGlyphs">16</text>
<text x="306.8" y="700.0" font-size="10.60" fill="#b9bcc5" stroke="#b9bcc5" stroke-width="0.22" font-weight="normal" textLength="16.6" lengthAdjust="spacingAndGlyphs">Sep</text>
<text x="448.6" y="700.0" font-size="10.60" fill="#b9bcc5" stroke="#b9bcc5" stroke-width="0.22" font-weight="normal" textLength="16.4" lengthAdjust="spacingAndGlyphs">Oct</text>
<text x="525.8" y="700.0" font-size="10.60" fill="#b9bcc5" stroke="#b9bcc5" stroke-width="0.22" font-weight="normal" textLength="10.4" lengthAdjust="spacingAndGlyphs">17</text>
<text x="596.7" y="700.0" font-size="10.60" fill="#b9bcc5" stroke="#b9bcc5" stroke-width="0.22" font-weight="normal" textLength="17.2" lengthAdjust="spacingAndGlyphs">Nov</text>
<text x="674.0" y="700.0" font-size="10.60" fill="#b9bcc5" stroke="#b9bcc5" stroke-width="0.22" font-weight="normal" textLength="10.4" lengthAdjust="spacingAndGlyphs">16</text>
<text x="744.9" y="700.0" font-size="10.60" fill="#b9bcc5" stroke="#b9bcc5" stroke-width="0.22" font-weight="normal" textLength="17.0" lengthAdjust="spacingAndGlyphs">Dec</text>
<text x="883.4" y="700.0" font-size="10.60" fill="#b9bcc5" stroke="#b9bcc5" stroke-width="0.22" font-weight="normal" textLength="24.0" lengthAdjust="spacingAndGlyphs">2024</text>
<text x="964.2" y="700.0" font-size="10.60" fill="#b9bcc5" stroke="#b9bcc5" stroke-width="0.22" font-weight="normal" textLength="10.4" lengthAdjust="spacingAndGlyphs">16</text>
<text x="1041.9" y="700.0" font-size="10.60" fill="#b9bcc5" stroke="#b9bcc5" stroke-width="0.22" font-weight="normal" textLength="16.8" lengthAdjust="spacingAndGlyphs">Feb</text>
<text x="1183.1" y="700.0" font-size="10.60" fill="#b9bcc5" stroke="#b9bcc5" stroke-width="0.22" font-weight="normal" textLength="17.2" lengthAdjust="spacingAndGlyphs">Mar</text>
<text x="1325.8" y="700.0" font-size="10.60" fill="#b9bcc5" stroke="#b9bcc5" stroke-width="0.22" font-weight="normal" textLength="16.4" lengthAdjust="spacingAndGlyphs">Apr</text>
<text x="8.8" y="16.6" font-size="10.50" fill="#c9ccd4" stroke="#c9ccd4" stroke-width="0.22" font-weight="normal" textLength="329.5" lengthAdjust="spacingAndGlyphs">dacolmanfx published on TradingView.com, Mar 06, 2024 12:40 UTC-5</text>
<text x="15.9" y="40.9" font-size="10.90" fill="#c9ccd4" stroke="#c9ccd4" stroke-width="0.22" font-weight="normal" textLength="176.6" lengthAdjust="spacingAndGlyphs">U.S. Dollar / Canadian Dollar, 1D, ICE</text>
<text x="199.6" y="40.9" font-size="10.90" fill="#c9ccd4" stroke="#c9ccd4" stroke-width="0.22" font-weight="normal" textLength="6.3" lengthAdjust="spacingAndGlyphs">O</text>
<text x="206.4" y="40.9" font-size="10.90" fill="#ef5350" stroke="#ef5350" stroke-width="0.22" font-weight="normal" textLength="36.5" lengthAdjust="spacingAndGlyphs">1.35898</text>
<text x="250.3" y="40.9" font-size="10.90" fill="#c9ccd4" stroke="#c9ccd4" stroke-width="0.22" font-weight="normal" textLength="6.7" lengthAdjust="spacingAndGlyphs">H</text>
<text x="257.8" y="40.9" font-size="10.90" fill="#ef5350" stroke="#ef5350" stroke-width="0.22" font-weight="normal" textLength="35.8" lengthAdjust="spacingAndGlyphs">1.35999</text>
<text x="300.4" y="40.9" font-size="10.90" fill="#c9ccd4" stroke="#c9ccd4" stroke-width="0.22" font-weight="normal" textLength="4.6" lengthAdjust="spacingAndGlyphs">L</text>
<text x="305.5" y="40.9" font-size="10.90" fill="#ef5350" stroke="#ef5350" stroke-width="0.22" font-weight="normal" textLength="36.9" lengthAdjust="spacingAndGlyphs">1.35040</text>
<text x="349.1" y="40.9" font-size="10.90" fill="#c9ccd4" stroke="#c9ccd4" stroke-width="0.22" font-weight="normal" textLength="6.4" lengthAdjust="spacingAndGlyphs">C</text>
<text x="356.2" y="40.9" font-size="10.90" fill="#ef5350" stroke="#ef5350" stroke-width="0.22" font-weight="normal" textLength="36.2" lengthAdjust="spacingAndGlyphs">1.35074</text>
<text x="399.2" y="40.9" font-size="10.90" fill="#ef5350" stroke="#ef5350" stroke-width="0.22" font-weight="normal" textLength="42.3" lengthAdjust="spacingAndGlyphs">−0.00802</text>
<text x="445.9" y="40.9" font-size="10.90" fill="#ef5350" stroke="#ef5350" stroke-width="0.22" font-weight="normal" textLength="38.1" lengthAdjust="spacingAndGlyphs">(−0.59%)</text>
<g fill="#d1d4dc"><path d="M9.1 718.5h7v8.4h-3.9v-4.2h-3.1z"/><circle cx="18.5" cy="720.5" r="1.55"/><path d="M21.6 718.5h4.6l-3.2 8.4h-4.4z"/></g>
<text x="29.2" y="727.9" font-size="11.20" fill="#c9ccd4" stroke="#c9ccd4" stroke-width="0.22" font-weight="normal" textLength="62.1" lengthAdjust="spacingAndGlyphs">TradingView</text>
<filter id="wmsh" x="-5%" y="-10%" width="112%" height="125%"><feOffset in="SourceAlpha" dx="2.2" dy="2" result="o"/><feFlood flood-color="#000000"/><feComposite in2="o" operator="in" result="s"/><feMerge><feMergeNode in="s"/><feMergeNode in="SourceGraphic"/></feMerge></filter>
<g opacity="0.62" filter="url(#wmsh)">
<text transform="translate(1178.5 694.9) skewX(-14)" x="0" y="0" font-size="57" font-weight="900" fill="#eeeef0" stroke="#eeeef0" stroke-width="1.3" stroke-linejoin="miter" textLength="241" lengthAdjust="spacingAndGlyphs" style="font-family:'Liberation Sans', 'Noto Sans CJK SC', 'WenQuanYi Zen Hei', sans-serif">海马财经</text>
</g>
<text transform="scale(1.22 1)" x="978.7 1000.4 1022.5 1045.1 1060.2 1086.9 1107.4 1124.6 1144.3" y="733.8" font-size="31.5" font-weight="bold" font-style="italic" fill="#1d3f9f" stroke="#1d3f9f" stroke-width="0.8">zzrt01.cn</text>
</svg></body></html>
